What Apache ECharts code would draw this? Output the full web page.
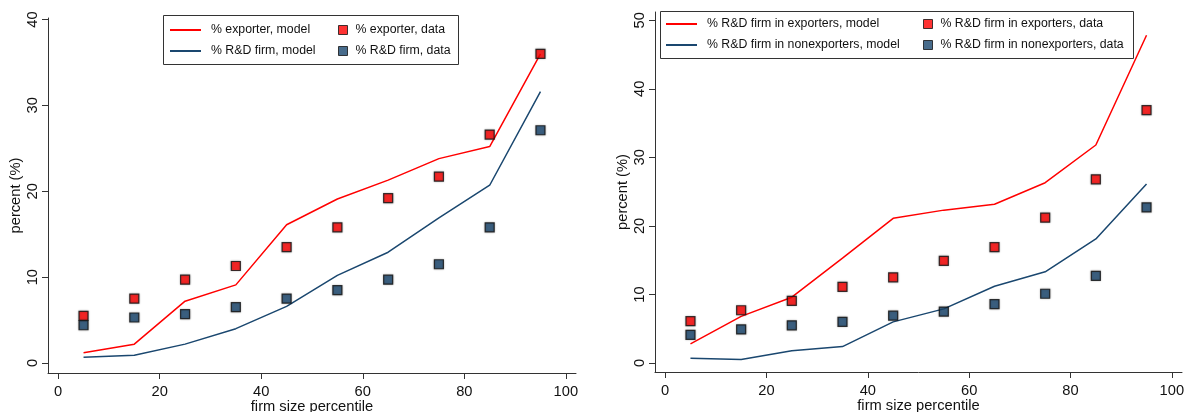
<!DOCTYPE html>
<html>
<head>
<meta charset="utf-8">
<script src="https://cdn.jsdelivr.net/npm/echarts@6/dist/echarts.min.js"></script>
<style>html,body{margin:0;padding:0;background:#fff;}#c{width:1185px;height:412px;}</style>
</head>
<body>
<div id="c"></div>
<script>
// ---- data ----
const percentiles = [5, 15, 25, 35, 45, 55, 65, 75, 85, 95];
const xTicks = [0, 20, 40, 60, 80, 100];
const yTicksLeft = [0, 10, 20, 30, 40];
const yTicksRight = [0, 10, 20, 30, 40, 50];

// left panel
const exporterModel = [1.2, 2.2, 7.2, 9.1, 16.1, 19.1, 21.3, 23.8, 25.2, 36.0];
const rdModel       = [0.66, 0.9, 2.2, 4.0, 6.6, 10.2, 12.9, 16.9, 20.7, 31.6];
const exporterData  = [5.5, 7.5, 9.7, 11.3, 13.5, 15.8, 19.2, 21.7, 26.6, 36.0];
const rdData        = [4.4, 5.3, 5.7, 6.5, 7.5, 8.5, 9.7, 11.5, 15.8, 27.1];

// right panel
const rdExpModel    = [2.8, 6.8, 9.6, 15.3, 21.1, 22.3, 23.15, 26.3, 31.8, 47.8];
const rdNonModel    = [0.7, 0.5, 1.8, 2.4, 6.0, 7.9, 11.2, 13.3, 18.1, 26.1];
const rdExpData     = [6.1, 7.7, 9.05, 11.1, 12.5, 14.9, 16.9, 21.2, 26.8, 36.9];
const rdNonData     = [4.1, 4.9, 5.5, 6.0, 6.9, 7.5, 8.6, 10.1, 12.7, 22.7];

const names = {
  l1: '% exporter, model', l2: '% R&D firm, model',
  l3: '% exporter, data', l4: '% R&D firm, data',
  r1: '% R&D firm in exporters, model', r2: '% R&D firm in nonexporters, model',
  r3: '% R&D firm in exporters, data', r4: '% R&D firm in nonexporters, data'
};

const RED = '#ff0000';
const NAVY = '#1a476f';
const AX = '#333333';
const FONT = 'Liberation Sans, Arial, sans-serif';
const FS = 14.7;
const LFS = 12.3;

function pairs(ys) { return percentiles.map((x, i) => [x, ys[i]]); }

function xAxis(gi) {
  return {
    type: 'value', gridIndex: gi, min: -2, max: 102,
    name: 'firm size percentile', nameLocation: 'middle', nameGap: 26, nameMoveOverlap: false,
    nameTextStyle: { color: '#111', fontSize: FS, fontFamily: FONT },
    axisLine: { show: true, onZero: false, lineStyle: { color: AX, width: 1 } },
    axisTick: { show: true, length: 6, lineStyle: { color: AX }, customValues: xTicks },
    axisLabel: { color: '#111', fontSize: FS, fontFamily: FONT, margin: 11, customValues: xTicks },
    splitLine: { show: false }
  };
}
function yAxis(gi, min, max, ticks) {
  return {
    type: 'value', gridIndex: gi, min: min, max: max,
    name: 'percent (%)', nameLocation: 'middle', nameGap: 25, nameRotate: 90, nameMoveOverlap: false,
    nameTextStyle: { color: '#111', fontSize: FS, fontFamily: FONT },
    axisLine: { show: true, onZero: false, lineStyle: { color: AX, width: 1 } },
    axisTick: { show: true, length: 6, lineStyle: { color: AX }, customValues: ticks },
    axisLabel: { color: '#111', fontSize: FS, fontFamily: FONT, rotate: 90, margin: 8, customValues: ticks },
    splitLine: { show: false }
  };
}
function lineS(name, ys, color, gi) {
  return { name: name, type: 'line', xAxisIndex: gi, yAxisIndex: gi, data: pairs(ys),
    symbol: 'none', lineStyle: { color: color, width: 1.5 }, itemStyle: { color: color }, z: 2, silent: true };
}
function dotS(name, ys, color, gi) {
  return { name: name, type: 'scatter', xAxisIndex: gi, yAxisIndex: gi, data: pairs(ys),
    symbol: 'rect', symbolSize: 9,
    itemStyle: { color: color, borderColor: '#111', borderWidth: 1.2, shadowBlur: 2, shadowColor: 'rgba(0,0,0,0.35)' }, z: 3 };
}
function lineLegend(left, top, data) {
  return { orient: 'vertical', left: left, top: top, padding: 0, itemWidth: 31, itemHeight: 2, itemGap: 7,
    icon: 'rect', data: data, selectedMode: false, z: 20,
    textStyle: { fontSize: LFS, fontFamily: FONT, color: '#111', lineHeight: 14, padding: [0, 0, 0, 5] } };
}
function dotLegend(left, top, data) {
  return { orient: 'vertical', left: left, top: top, padding: 0, itemWidth: 9, itemHeight: 9, itemGap: 7,
    icon: 'rect', data: data, selectedMode: false, z: 20,
    itemStyle: { borderColor: '#111', borderWidth: 1 },
    textStyle: { fontSize: LFS, fontFamily: FONT, color: '#111', lineHeight: 14, padding: [0, 0, 0, 3] } };
}

const chart = echarts.init(document.getElementById('c'), null, { renderer: 'canvas' });
chart.setOption({
  backgroundColor: '#fff',
  animation: false,
  grid: [
    { left: 48, top: 18, width: 528, height: 355, containLabel: false, outerBoundsMode: 'none' },
    { left: 655, top: 12, width: 527, height: 360, containLabel: false, outerBoundsMode: 'none' }
  ],
  xAxis: [xAxis(0), xAxis(1)],
  yAxis: [yAxis(0, -1.16, 40.17, yTicksLeft), yAxis(1, -1.31, 51.2, yTicksRight)],
  legend: [
    lineLegend(170, 23, [names.l1, names.l2]),
    dotLegend(338, 23, [names.l3, names.l4]),
    lineLegend(666, 17, [names.r1, names.r2]),
    dotLegend(923, 17, [names.r3, names.r4])
  ],
  graphic: [
    { type: 'rect', shape: { x: 163.5, y: 15.5, width: 295, height: 49 }, style: { fill: '#fff', stroke: AX, lineWidth: 1 }, z: 10 },
    { type: 'rect', shape: { x: 660.5, y: 11.5, width: 473, height: 47 }, style: { fill: '#fff', stroke: AX, lineWidth: 1 }, z: 10 }
  ],
  series: [
    lineS(names.l1, exporterModel, RED, 0),
    lineS(names.l2, rdModel, NAVY, 0),
    dotS(names.l3, exporterData, RED, 0),
    dotS(names.l4, rdData, NAVY, 0),
    lineS(names.r1, rdExpModel, RED, 1),
    lineS(names.r2, rdNonModel, NAVY, 1),
    dotS(names.r3, rdExpData, RED, 1),
    dotS(names.r4, rdNonData, NAVY, 1)
  ]
});
</script>
</body>
</html>
